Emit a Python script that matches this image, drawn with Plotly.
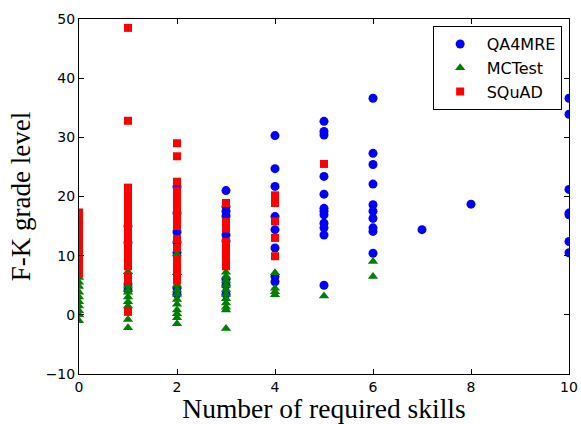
import plotly.graph_objects as go

# QA4MRE (blue circles)
qa4mre_skills = [1, 1, 1, 1,
                 2, 2, 2, 2, 2, 2, 2,
                 3, 3, 3, 3, 3, 3, 3, 3, 3,
                 4, 4, 4, 4, 4, 4, 4, 4,
                 5, 5, 5, 5, 5, 5, 5, 5, 5, 5, 5, 5,
                 6, 6, 6, 6, 6, 6, 6, 6, 6, 6,
                 7,
                 8,
                 10, 10, 10, 10, 10, 10, 10]
qa4mre_grade = [15.0, 12.2, 5.2, 4.2,
                21.6, 17.2, 14.0, 12.3, 10.5, 4.5, 3.5,
                21.0, 18.3, 17.5, 16.7, 13.5, 12.5, 6.0, 5.0, 3.5,
                30.3, 24.7, 21.7, 16.6, 14.4, 11.3, 6.5, 5.6,
                32.7, 31.0, 30.4, 23.4, 20.4, 18.0, 17.5, 16.9, 15.5, 14.7, 13.5, 5.0,
                36.6, 27.3, 25.4, 22.1, 18.6, 17.5, 16.3, 14.7, 14.1, 10.4,
                14.4,
                18.7,
                36.6, 33.9, 21.2, 17.2, 16.9, 12.4, 10.5]

# MCTest (green triangles)
mctest_skills = [0, 0, 0, 0, 0, 0, 0, 0, 0, 0,
                 1, 1, 1, 1, 1, 1, 1, 1, 1,
                 2, 2, 2, 2, 2, 2, 2, 2, 2, 2, 2,
                 3, 3, 3, 3, 3, 3, 3, 3, 3, 3, 3,
                 4, 4, 4, 4,
                 5,
                 6, 6]
mctest_grade = [6.3, 5.5, 4.8, 3.8, 3.0, 2.2, 1.5, 0.7, 0.0, -1.0,
                7.3, 5.0, 4.3, 3.8, 3.0, 2.2, 1.5, -0.8, -2.2,
                10.3, 7.1, 5.0, 4.2, 3.5, 2.6, 1.8, 0.8, 0.2, -0.5, -1.5,
                7.2, 6.5, 5.8, 5.0, 4.3, 3.5, 2.7, 2.0, 1.3, 0.8, -2.3,
                7.1, 4.5, 3.9, 3.4,
                3.2,
                9.0, 6.5]

# SQuAD (red squares)
squad_skills = [0, 0, 0, 0, 0, 0, 0, 0, 0, 0, 0, 0, 0, 0, 0,
                1, 1, 1, 1, 1, 1, 1, 1, 1, 1, 1, 1, 1, 1, 1, 1, 1, 1, 1, 1, 1, 1, 1, 1, 1,
                2, 2, 2, 2, 2, 2, 2, 2, 2, 2, 2, 2, 2, 2, 2, 2, 2, 2,
                3, 3, 3, 3, 3, 3, 3, 3, 3,
                4, 4, 4, 4, 4,
                5]
squad_grade = [17.3, 16.5, 15.7, 15.0, 14.2, 13.5, 12.8, 12.0, 11.3, 10.5, 9.8, 9.0, 8.3, 7.5, 7.0,
               48.5, 32.8, 21.5, 20.8, 20.1, 19.4, 18.7, 18.0, 17.3, 16.6, 15.9, 15.2, 14.5, 13.8,
               13.1, 12.4, 11.7, 11.0, 10.3, 9.6, 8.9, 8.2, 6.5, 5.8, 0.5,
               29.0, 26.8, 22.5, 21.0, 20.2, 19.4, 18.6, 17.8, 16.8, 15.8, 15.0, 12.8, 11.3, 9.3,
               8.5, 7.5, 6.8, 5.8,
               18.9, 15.7, 14.6, 11.8, 10.8, 9.8, 8.8, 8.2, 12.3,
               20.2, 18.9, 15.8, 13.0, 9.9,
               25.5]

x_ticks = [0, 2, 4, 6, 8, 10]
y_ticks = [-10, 0, 10, 20, 30, 40, 50]

fig = go.Figure()
fig.add_trace(go.Scatter(x=qa4mre_skills, y=qa4mre_grade, mode="markers", name="QA4MRE",
                         marker=dict(symbol="circle", size=9, color="#0000ff", line=dict(width=0))))
fig.add_trace(go.Scatter(x=mctest_skills, y=mctest_grade, mode="markers", name="MCTest",
                         marker=dict(symbol="triangle-up", size=9, color="#008000", line=dict(width=0))))
fig.add_trace(go.Scatter(x=squad_skills, y=squad_grade, mode="markers", name="SQuAD",
                         marker=dict(symbol="square", size=8, color="#ff0000", line=dict(width=0))))

axis_common = dict(showline=True, linecolor="black", linewidth=1, mirror="allticks",
                   ticks="inside", ticklen=5, tickcolor="black", showgrid=False, zeroline=False,
                   automargin=False,
                   tickfont=dict(family="DejaVu Sans", size=14, color="black"))

fig.update_layout(
    width=581, height=424,
    margin=dict(l=79, r=12, t=19, b=50),
    paper_bgcolor="white", plot_bgcolor="white",
    xaxis=dict(range=[0, 10], tickvals=x_ticks, **axis_common,
               title=dict(text="Number of required skills", standoff=7,
                          font=dict(family="Liberation Serif", size=27.5, color="black"))),
    yaxis=dict(range=[-10, 50], tickvals=y_ticks, **axis_common,
               title=dict(text="F-K grade level", standoff=7,
                          font=dict(family="Liberation Serif", size=27, color="black"))),
    legend=dict(x=0.985, y=0.98, xanchor="right", yanchor="top", bgcolor="white",
                bordercolor="black", borderwidth=1, itemwidth=43,
                font=dict(family="DejaVu Sans", size=16, color="black")),
    showlegend=True,
)

fig.write_html("out.html", config={"displayModeBar": False},
               post_script="document.body.style.margin='0';document.body.style.overflow='hidden';")
